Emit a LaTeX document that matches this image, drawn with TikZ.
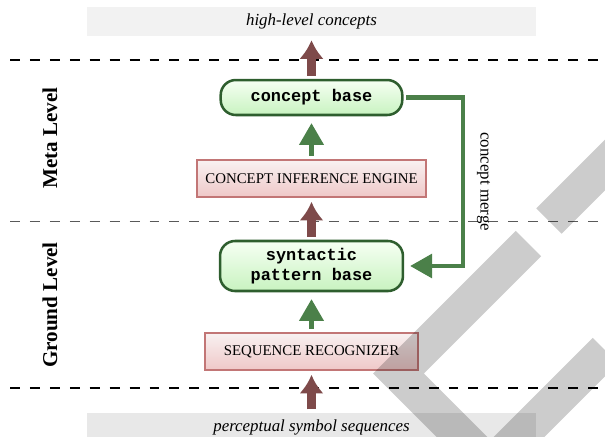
\documentclass[tikz,border=0pt]{standalone}
\usepackage{fontspec}
\setmainfont{Liberation Serif}
\setmonofont{Liberation Mono}
\usepackage{tikz}
\usetikzlibrary{arrows.meta}
\definecolor{basetop}{HTML}{F6FFF3}
\definecolor{basebot}{HTML}{C8F3C0}
\definecolor{baseline}{HTML}{2E5E2E}
\definecolor{enginetop}{HTML}{F8F1F1}
\definecolor{enginebot}{HTML}{EFC8C8}
\definecolor{engineline}{HTML}{C27676}
\definecolor{upcol}{HTML}{7E4A4A}
\definecolor{mergecol}{HTML}{4B8049}
\definecolor{bandtop}{HTML}{F2F2F2}
\definecolor{bandbot}{HTML}{E8E8E8}

\begin{document}
\begin{tikzpicture}[x=0.592pt, y=-0.592pt,
      basebox/.style={draw=baseline, line width=1.5pt, rounded corners=8.9pt,
                      top color=basetop, bottom color=basebot,
                      font=\ttfamily\bfseries, align=center,
                      minimum width=107.5pt, minimum height=20.7pt},
      enginebox/.style={draw=engineline, line width=0.9pt,
                        top color=enginetop, bottom color=enginebot,
                        font=\fontsize{8.8pt}{10pt}\selectfont,
                        minimum height=21.9pt},
      band/.style={fill=bandtop, font=\itshape, minimum width=265.8pt,
                   minimum height=16.9pt, inner sep=0pt},
      levellabel/.style={font=\fontsize{12.5pt}{14pt}\selectfont\bfseries,
                         rotate=90},
      uparr/.style={-{Latex[length=11pt, width=14.5pt]}, line width=4.8pt,
                    color=upcol, shorten >=2.4pt, shorten <=1.8pt},
      grnarr/.style={-{Triangle[length=13pt, width=14pt]}, line width=3pt,
                     color=mergecol, shorten >=4pt, shorten <=2pt},
      levelline/.style={dash pattern=on 5.9pt off 5.9pt, line width=1.1pt},
      stripe/.style={line width=21.3pt, draw=black, draw opacity=0.2,
                     line join=miter}]

    \useasboundingbox (0,0) rectangle (605,436);
    \clip (0,0) rectangle (605,436);

    % input and output bands
    \node[band] (hlc) at (311.5,21.5) {high-level concepts};
    \node[band, fill=bandbot] (pss) at (311.5,427) {perceptual symbol sequences};

    % level separators
    \draw[levelline] (10,60) -- (610,60);
    \draw[levelline, line width=0.7pt, color=black!65] (10,221.5) -- (610,221.5);
    \draw[levelline] (10,388) -- (610,388);

    \node[levellabel] (meta) at (50,138) {Meta Level};
    \node[levellabel] (ground) at (50,305) {Ground Level};

    % processing stack
    \node[basebox] (cb) at (311.5,97.5) {concept base};
    \node[enginebox, minimum width=135.6pt] (cie) at (311.5,178.5)
      {CONCEPT INFERENCE ENGINE};
    \node[basebox, minimum width=108.3pt, minimum height=29.6pt] (spb)
      at (311.5,266) {syntactic\\pattern base};
    \node[enginebox, minimum width=126.1pt] (sr) at (311.5,351.5)
      {SEQUENCE RECOGNIZER};

    \draw[uparr] (pss.north) -- (sr.south);
    \draw[grnarr] (sr.north) -- (spb.south);
    \draw[uparr] (spb.north) -- (cie.south);
    \draw[grnarr] (cie.north) -- (cb.south);
    \draw[uparr] (cb.north) -- (hlc.south);

    % feedback from the meta level
    \coordinate (mx) at (463,0);
    \draw[-{Triangle[length=13pt, width=14pt]}, line width=2.4pt,
          color=mergecol, shorten <=1.5pt, shorten >=3.5pt]
      (cb.east) -- (cb.east -| mx) -- (spb.east -| mx)
        node[midway, rotate=-90, anchor=south, inner sep=7pt,
             text=black] {concept merge}
      -- (spb.east);

    % grey stripes
    \draw[stripe] (528.5,243.5) -- (398.5,373.5) -- (498.5,473.5);
    \draw[stripe] (549,221) -- (700,70);
    \draw[stripe] (605.5,350.5) -- (480,476);
  \end{tikzpicture}
\end{document}
